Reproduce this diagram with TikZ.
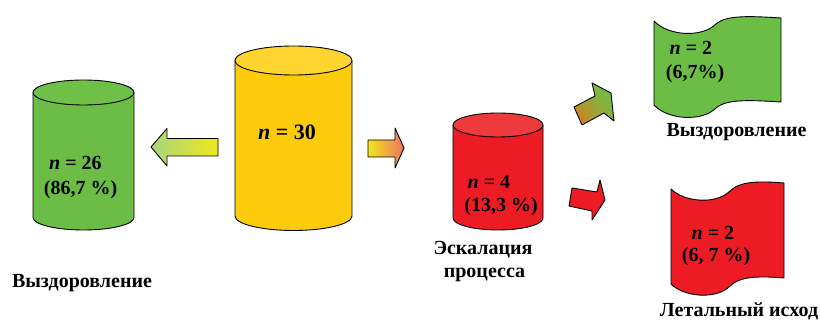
\documentclass[tikz,border=0pt]{standalone}
\usepackage{fontspec}
\setmainfont{Liberation Serif}
\usetikzlibrary{calc,shadings}

\definecolor{cgreen}{HTML}{6CBD45}
\definecolor{cgreentop}{HTML}{6EC047}
\definecolor{cyellow}{HTML}{FCCB0B}
\definecolor{cyellowtop}{HTML}{FDD52E}
\definecolor{cred}{HTML}{ED1C24}
\definecolor{credtop}{HTML}{EE3A3D}
\definecolor{agreenl}{HTML}{A6D57D}
\definecolor{agreenm}{HTML}{BCD832}
\definecolor{ayellow}{HTML}{F2E71C}
\definecolor{aorange}{HTML}{F6B02A}
\definecolor{asalmon}{HTML}{EF7262}
\definecolor{dorange}{HTML}{EA6E1E}
\definecolor{dgreen}{HTML}{5EC04A}
\definecolor{dmix}{HTML}{8AB63C}

% cylinder: #1 left x, #2 right x, #3 top centre y, #4 bottom centre y,
% #5 vertical radius, #6 body colour, #7 lid colour
\newcommand\drawdrum[7]{%
  \pgfmathsetmacro\drx{(#2-#1)/2}%
  \pgfmathsetmacro\dcx{(#1+#2)/2}%
  \fill[#6] (#1,#3) -- (#1,#4)
    arc[start angle=180,end angle=360,x radius=\drx pt,y radius=#5pt]
    -- (#2,#3) -- cycle;
  \draw[outline] (#1,#3) -- (#1,#4)
    arc[start angle=180,end angle=360,x radius=\drx pt,y radius=#5pt]
    -- (#2,#3);
  \draw[outline,fill=#7] (\dcx,#3) ellipse[x radius=\drx pt,y radius=#5pt];
}

\begin{document}
\begin{tikzpicture}[x=1pt,y=-1pt,
  outline/.style={draw=black,line width=0.9pt,line join=round},
  lbl/.style={font=\fontsize{20}{24}\selectfont\bfseries,inner sep=0pt,anchor=base},
  big/.style={font=\fontsize{22}{26}\selectfont\bfseries,inner sep=0pt,anchor=base}]
\useasboundingbox (0,0) rectangle (820,323);

% drums
\drawdrum{33}{134}{92.5}{217.5}{12.5}{cgreen}{cgreentop}
\drawdrum{235}{352}{60.5}{216}{14.5}{cyellow}{cyellowtop}
\drawdrum{453}{543}{125}{218}{12}{cred}{credtop}

% block arrows
\shade[left color=agreenl,middle color=agreenm,right color=ayellow]
  (151,147) -- (167,128.5) -- (167,138.5) -- (218,138.5) -- (218,156)
  -- (167,156) -- (167,166) -- cycle;
\draw[outline]
  (151,147) -- (167,128.5) -- (167,138.5) -- (218,138.5) -- (218,156)
  -- (167,156) -- (167,166) -- cycle;

\shade[left color=ayellow,middle color=aorange,right color=asalmon]
  (368,140) -- (395,140) -- (395,128) -- (404,148) -- (395,168)
  -- (395,157) -- (368,157) -- cycle;
\draw[outline]
  (368,140) -- (395,140) -- (395,128) -- (404,148) -- (395,168)
  -- (395,157) -- (368,157) -- cycle;

\shade[lower left=dorange,upper right=dgreen,upper left=dmix,lower right=dmix]
  (582,125) -- (574,107) -- (595,96) -- (592,83) -- (611,93)
  -- (614,121) -- (604,113) -- cycle;
\draw[outline]
  (582,125) -- (574,107) -- (595,96) -- (592,83) -- (611,93)
  -- (614,121) -- (604,113) -- cycle;

\filldraw[outline,fill=cred]
  (572,188) -- (597,192) -- (600,180) -- (605,200) -- (592,220)
  -- (592,211) -- (569,206) -- cycle;

% waving banners
\filldraw[outline,fill=cgreen]
  (654,21) .. controls (668,36) and (702,38) .. (716,24)
  .. controls (726,15) and (750,16) .. (781,18)
  -- (781,102) .. controls (750,100) and (726,99) .. (716,108)
  .. controls (702,122) and (668,120) .. (654,105) -- cycle;
\filldraw[outline,fill=cred]
  (671,189) .. controls (684,202) and (716,205) .. (730,191)
  .. controls (740,181) and (760,181) .. (784,183)
  -- (784,278) .. controls (760,276) and (740,276) .. (730,286)
  .. controls (716,300) and (684,297) .. (671,284) -- cycle;

% counts
\node[big] (n30) at (287,139.5) {\textit{n} = 30};
\node[lbl] (n26) at (75.5,170) {\textit{n} = 26};
\node[lbl] (p26) at (80.5,195) {(86,7 \%)};
\node[lbl] (n4) at (489,189) {\textit{n} = 4};
\node[lbl] (p4) at (501,212) {(13,3 \%)};
\node[lbl] (n2a) at (691,55) {\textit{n} = 2};
\node[lbl] (p2a) at (695,79) {(6,7\%)};
\node[lbl] (n2b) at (713,240) {\textit{n} = 2};
\node[lbl] (p2b) at (716,262) {(6, 7 \%)};

% captions
\node[lbl] (recl) at (82,288) {Выздоровление};
\node[lbl] (esc1) at (483,255) {Эскалация};
\node[lbl] (esc2) at (484.5,278) {процесса};
\node[lbl] (recr) at (736.5,137) {Выздоровление};
\node[lbl] (death) at (739,317) {Летальный исход};
\end{tikzpicture}
\end{document}
